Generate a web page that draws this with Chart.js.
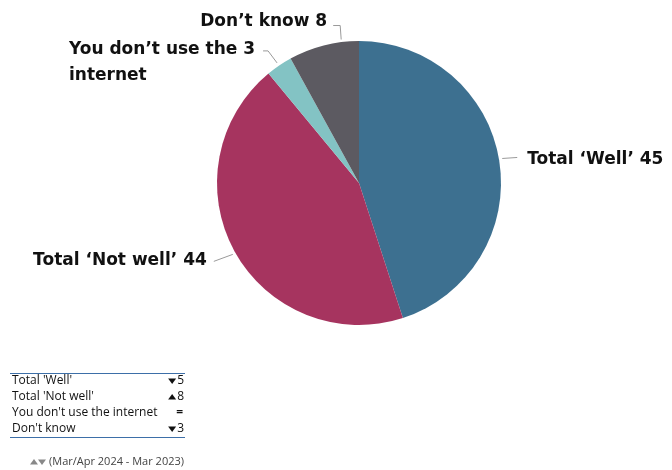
<!DOCTYPE html>
<html lang="en">
<head>
  <meta charset="UTF-8">
  <title>Internet use</title>
  <script src="https://cdn.jsdelivr.net/npm/chart.js"></script>
  <style>
    html, body { margin: 0; padding: 0; background: #fff; }
    #wrap { position: relative; width: 672px; height: 470px; }
  </style>
</head>
<body>
  <div id="wrap"><canvas id="pieChart"></canvas></div>
  <script>
    // answer categories and their shares (%)
    const categories = ['Total ‘Well’', 'Total ‘Not well’', 'You don’t use the internet', 'Don’t know'];
    const shares = [45, 44, 3, 8];
    // label lines drawn next to each slice (value goes after the first line)
    const sliceLabels = [['Total ‘Well’'], ['Total ‘Not well’'], ['You don’t use the', 'internet'], ['Don’t know']];

    // change table under the pie
    const tableNames = ["Total 'Well'", "Total 'Not well'", "You don't use the internet", "Don't know"];
    const tableChanges = [-5, 8, 0, -3];
    const tableNote = '(Mar/Apr 2024 - Mar 2023)';

    const colors = ['#3d7090', '#a6345f', '#83c3c4', '#5c5a61'];

    // leader line points and text position, offsets from the slice's outer mid point
    const leaders = [
      { pts: [[1, -2], [16, -3]], text: [26, -1], align: 'left' },
      { pts: [[0, 2], [-19, 9]], text: [-26, 8], align: 'right' },
      { pts: [[-1, -1], [-10, -13], [-15, -13]], text: [-23, -14], align: 'right' },
      { pts: [[18, -4], [17, -18], [10, -18]], text: [4, -22], align: 'right' }
    ];

    const labelFont = 'bold 17px "DejaVu Sans"';

    const sliceLabelPlugin = {
      id: 'sliceLabels',
      afterDatasetsDraw(chart) {
        const ctx = chart.ctx;
        const meta = chart.getDatasetMeta(0);
        ctx.save();
        meta.data.forEach((arc, i) => {
          const p = arc.getProps(['x', 'y', 'startAngle', 'endAngle', 'outerRadius'], true);
          const mid = (p.startAngle + p.endAngle) / 2;
          const ax = p.x + Math.cos(mid) * (p.outerRadius + 2);
          const ay = p.y + Math.sin(mid) * (p.outerRadius + 2);
          const L = leaders[i];
          ctx.strokeStyle = '#9a9a9a';
          ctx.lineWidth = 1;
          ctx.beginPath();
          L.pts.forEach((pt, k) => {
            if (k === 0) ctx.moveTo(ax + pt[0], ay + pt[1]);
            else ctx.lineTo(ax + pt[0], ay + pt[1]);
          });
          ctx.stroke();

          ctx.font = labelFont;
          ctx.fillStyle = '#111';
          ctx.textBaseline = 'middle';
          const lines = sliceLabels[i].slice();
          lines[0] = lines[0] + ' ' + shares[i];
          const tx = ax + L.text[0];
          const ty = ay + L.text[1];
          const w0 = ctx.measureText(lines[0]).width;
          const left = L.align === 'right' ? tx - w0 : tx;
          ctx.textAlign = 'left';
          lines.forEach((ln, k) => ctx.fillText(ln, left, ty + k * 26));
        });
        ctx.restore();
      }
    };

    const tablePlugin = {
      id: 'changeTable',
      afterDraw(chart) {
        const ctx = chart.ctx;
        const x0 = 10, x1 = 185, top = 373, rowH = 16;
        ctx.save();
        ctx.strokeStyle = '#3d6fa8';
        ctx.lineWidth = 1;
        ctx.beginPath();
        ctx.moveTo(x0, top + 0.5); ctx.lineTo(x1, top + 0.5);
        const bottom = top + rowH * tableNames.length;
        ctx.moveTo(x0, bottom + 0.5); ctx.lineTo(x1, bottom + 0.5);
        ctx.stroke();

        ctx.font = '12px "Open Sans"';
        ctx.fillStyle = '#111';
        ctx.textBaseline = 'middle';
        tableNames.forEach((name, i) => {
          const y = top + 8 + i * rowH;
          ctx.textAlign = 'left';
          ctx.fillText(name, x0 + 2, y);
          const v = tableChanges[i];
          ctx.textAlign = 'right';
          if (v === 0) {
            ctx.font = 'bold 12px "Open Sans"';
            ctx.fillText('=', x1 - 2, y);
            ctx.font = '12px "Open Sans"';
          } else {
            const num = String(Math.abs(v));
            ctx.fillText(num, x1 - 1, y);
            const nw = ctx.measureText(num).width;
            drawTri(ctx, x1 - 1 - nw - 5, y, v > 0, '#111');
          }
        });

        // footnote
        ctx.font = '11px "Open Sans"';
        ctx.textAlign = 'left';
        drawTri(ctx, 34, 462, true, '#888');
        drawTri(ctx, 42, 462, false, '#888');
        ctx.fillStyle = '#444';
        ctx.fillText(tableNote, 49, 462);
        ctx.restore();
      }
    };

    function drawTri(ctx, cx, cy, up, color) {
      ctx.fillStyle = color;
      ctx.beginPath();
      if (up) {
        ctx.moveTo(cx - 4, cy + 2.5); ctx.lineTo(cx + 4, cy + 2.5); ctx.lineTo(cx, cy - 3);
      } else {
        ctx.moveTo(cx - 4, cy - 2.5); ctx.lineTo(cx + 4, cy - 2.5); ctx.lineTo(cx, cy + 3);
      }
      ctx.closePath();
      ctx.fill();
      ctx.fillStyle = '#111';
    }

    new Chart(document.getElementById('pieChart'), {
      type: 'pie',
      data: {
        labels: categories,
        datasets: [{
          data: shares,
          backgroundColor: colors,
          borderWidth: 0
        }]
      },
      options: {
        responsive: true,
        maintainAspectRatio: false,
        animation: false,
        layout: { padding: { top: 41, bottom: 145, left: 217, right: 171 } },
        plugins: {
          legend: { display: false },
          tooltip: { enabled: false }
        }
      },
      plugins: [sliceLabelPlugin, tablePlugin]
    });
  </script>
</body>
</html>
